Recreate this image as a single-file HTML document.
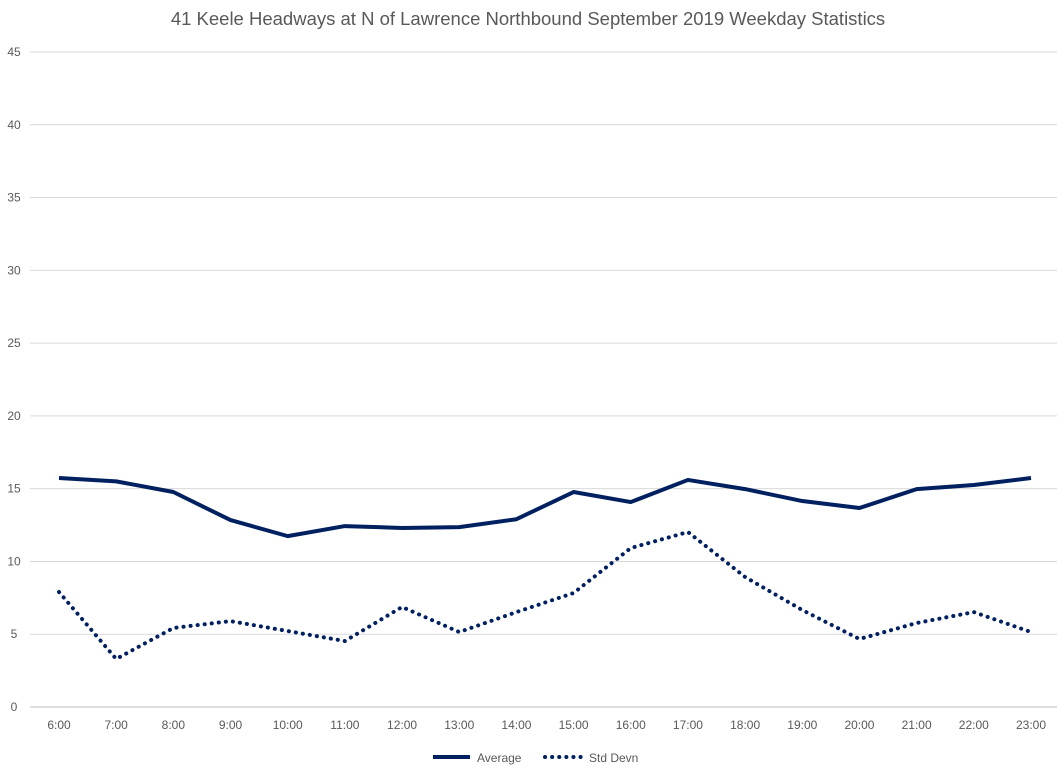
<!DOCTYPE html>
<html><head><meta charset="utf-8"><style>
body{margin:0;background:#fff;}
svg text{font-family:"Liberation Sans",sans-serif;fill:#595959;}
</style></head><body>
<svg id="chart" width="1057" height="770" xmlns="http://www.w3.org/2000/svg">
<text x="528" y="25" text-anchor="middle" font-size="18.5">41 Keele Headways at N of Lawrence Northbound September 2019 Weekday Statistics</text>
<g id="grid"></g><g id="xlabels"></g><g id="series"></g>
<g>
<line x1="433" y1="757" x2="470" y2="757" stroke="#002060" stroke-width="4"/>
<text x="477" y="762" font-size="12">Average</text>
<line x1="545" y1="757" x2="582" y2="757" stroke="#002060" stroke-width="4" stroke-dasharray="0.1 7" stroke-linecap="round"/>
<text x="589" y="762" font-size="12">Std Devn</text>
</g>
</svg>
<script>
const categories=["6:00","7:00","8:00","9:00","10:00","11:00","12:00","13:00","14:00","15:00","16:00","17:00","18:00","19:00","20:00","21:00","22:00","23:00"];
const average=[15.73,15.5,14.77,12.84,11.74,12.43,12.3,12.36,12.9,14.77,14.08,15.6,14.97,14.15,13.67,14.97,15.25,15.73];
const stdDevn=[7.9,3.3,5.43,5.9,5.22,4.53,6.87,5.15,6.52,7.83,10.92,12.02,8.93,6.66,4.67,5.77,6.52,5.15];
const yTicks=[0,5,10,15,20,25,30,35,40,45];
const NS="http://www.w3.org/2000/svg";
const y=v=>707-v*(655/45);
const x=i=>59+i*(1031-59)/17;
function mk(t,a,p){const e=document.createElementNS(NS,t);for(const k in a)e.setAttribute(k,a[k]);p.appendChild(e);return e;}
const grid=document.getElementById('grid');
yTicks.forEach(v=>{
 const l=mk('line',{x1:30,x2:1057,y1:y(v),y2:y(v),stroke:v===0?'#bfbfbf':'#d9d9d9','stroke-width':1},grid);
 
 
 const t=mk('text',{x:14,y:y(v)+4,'text-anchor':'middle','font-size':12},grid);
 t.textContent=v;
 
 
});
const xl=document.getElementById('xlabels');
categories.forEach((c,i)=>{
 const t=mk('text',{x:x(i),y:729,'text-anchor':'middle','font-size':12},xl);
 t.textContent=c;
 
 
});
const s=document.getElementById('series');
const pa=mk('polyline',{points:average.map((v,i)=>x(i)+','+y(v)).join(' '),fill:'none',stroke:'#002060','stroke-width':4,'stroke-linejoin':'round'},s);


const ps=mk('polyline',{points:stdDevn.map((v,i)=>x(i)+','+y(v)).join(' '),fill:'none',stroke:'#002060','stroke-width':4,'stroke-dasharray':'0.1 7','stroke-linecap':'round'},s);


</script>
</body></html>
